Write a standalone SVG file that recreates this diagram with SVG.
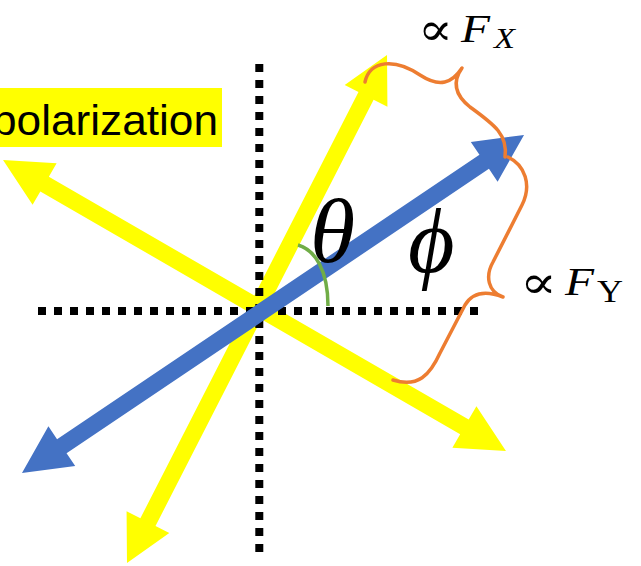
<svg xmlns="http://www.w3.org/2000/svg" width="641" height="566" viewBox="0 0 641 566">
<style>
.yel{fill:#FFFF00}
.blu{fill:#4472C4}
.dot{stroke:#000;stroke-width:8;stroke-dasharray:8 8;fill:none}
.brace{stroke:#ED7D31;stroke-width:3.5;fill:none;stroke-linecap:round;stroke-linejoin:round}
.arc{stroke:#70AD47;stroke-width:3.5;fill:none}
.math{font-family:"Liberation Serif","DejaVu Serif",serif;fill:#000}
.prop{font-family:"DejaVu Serif","Liberation Serif",serif;fill:#000}
.lbl{font-family:"Liberation Sans",Arial,sans-serif;fill:#000}
</style>
<rect width="641" height="566" fill="#fff"/>
<g id="label-polarization">
<rect x="0" y="88" width="222" height="59" fill="#FFFF00"/>
<text class="lbl" x="-8" y="135" font-size="43" textLength="226" lengthAdjust="spacingAndGlyphs">polarization</text>
</g>
<g id="arrow-yellow-steep">
<polygon class="yel" transform="translate(257,309) rotate(-62.9)" points="285.4,0 239.4,-24 239.4,-8.5 -239.4,-8.5 -239.4,-24 -285.4,0 -239.4,24 -239.4,8.5 239.4,8.5 239.4,24"/>
</g>
<g id="arrow-yellow-shallow">
<polygon class="yel" transform="translate(254.5,305.5) rotate(30.05)" points="290.5,0 242.5,-24 242.5,-8.5 -242.5,-8.5 -242.5,-24 -290.5,0 -242.5,24 -242.5,8.5 242.5,8.5 242.5,24"/>
</g>
<g id="connectors">
<line class="dot" x1="259.3" y1="64" x2="259.3" y2="553"/>
<line class="dot" x1="38" y1="311" x2="478" y2="311"/>
</g>
<g id="arrow-blue">
<polygon class="blu" transform="translate(273,304) rotate(-33.95)" points="302.6,0 254.6,-24 254.6,-8.5 -254.6,-8.5 -254.6,-24 -302.6,0 -254.6,24 -254.6,8.5 254.6,8.5 254.6,24"/>
</g>
<g id="angle-arc">
<path class="arc" d="M298,245 C315,250 328,270 328,306"/>
</g>
<g id="brace-x">
<path class="brace" d="M365,82 C370,60 395,58 420,75 C440,88 452,83 462,68 C452,82 455,95 470,107 C495,125 508,135 505,157"/>
</g>
<g id="brace-y">
<path class="brace" d="M508,157 C525,165 532,185 522,205 L493,262 C485,276 488,292 503,297 C490,292 474,290 465,305 L440,353 C430,375 418,388 393,380"/>
</g>
<g id="label-fx">
<text class="prop" x="418" y="45" font-size="46" textLength="35" lengthAdjust="spacingAndGlyphs">∝</text>
<text class="math" x="461" y="42" font-size="40" font-style="italic" textLength="29" lengthAdjust="spacingAndGlyphs">F</text>
<text class="math" x="494" y="48" font-size="29" font-style="italic" textLength="21" lengthAdjust="spacingAndGlyphs">X</text>
</g>
<g id="label-fy">
<text class="prop" x="520" y="298" font-size="46" textLength="37" lengthAdjust="spacingAndGlyphs">∝</text>
<text class="math" x="565" y="295" font-size="40" font-style="italic" textLength="29" lengthAdjust="spacingAndGlyphs">F</text>
<text class="math" x="597" y="302" font-size="31" textLength="26" lengthAdjust="spacingAndGlyphs">Y</text>
</g>
<g id="label-theta">
<text class="math" x="310" y="262" font-size="92" font-style="italic">θ</text>
</g>
<g id="label-phi">
<text class="math" x="408" y="272" font-size="90" font-style="italic">ϕ</text>
</g>
</svg>
